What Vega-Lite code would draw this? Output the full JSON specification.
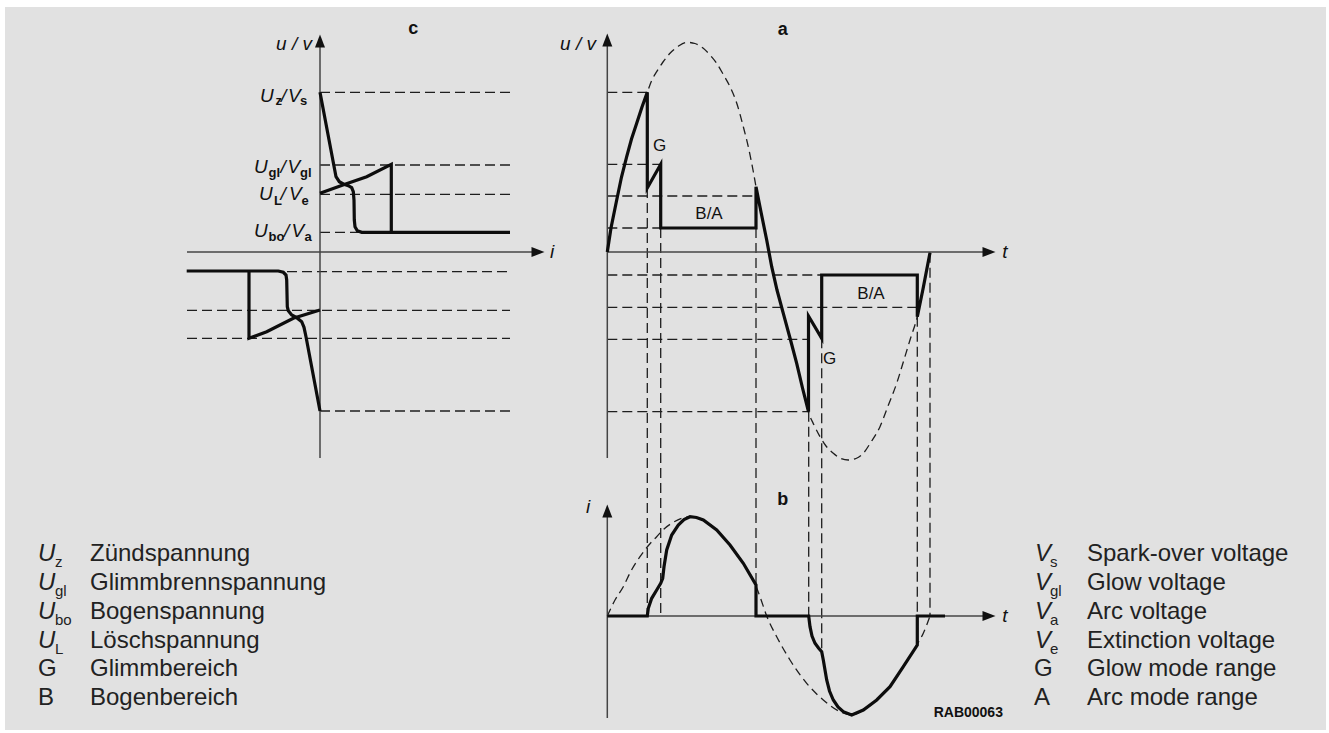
{
  "$schema": "https://vega.github.io/schema/vega-lite/v6.json",
  "width": 1321,
  "height": 723,
  "autosize": {"type": "none"},
  "padding": {"left": 5, "top": 7, "right": 3, "bottom": 3},
  "background": "#ffffff",
  "config": {"view": {"fill": "#e1e1e1", "stroke": null}},
  "datasets": {
    "axes": [
      {"g":"cy","o":0,"x":320,"y":46},{"g":"cy","o":1,"x":320,"y":458},
      {"g":"cx","o":0,"x":187,"y":252},{"g":"cx","o":1,"x":533,"y":252},
      {"g":"ay","o":0,"x":607.3,"y":46},{"g":"ay","o":1,"x":607.3,"y":458},
      {"g":"ax","o":0,"x":607.3,"y":252},{"g":"ax","o":1,"x":984,"y":252},
      {"g":"by","o":0,"x":607.3,"y":516},{"g":"by","o":1,"x":607.3,"y":718},
      {"g":"bx","o":0,"x":607.3,"y":616},{"g":"bx","o":1,"x":984,"y":616}
    ],
    "guides": [
      {"g":"c1","o":0,"x":320,"y":92.3},{"g":"c1","o":1,"x":510,"y":92.3},
      {"g":"c2","o":0,"x":320,"y":165},{"g":"c2","o":1,"x":510,"y":165},
      {"g":"c3","o":0,"x":320,"y":194.3},{"g":"c3","o":1,"x":510,"y":194.3},
      {"g":"c4","o":0,"x":320,"y":232.3},{"g":"c4","o":1,"x":510,"y":232.3},
      {"g":"c5","o":0,"x":287,"y":271.7},{"g":"c5","o":1,"x":510,"y":271.7},
      {"g":"c6","o":0,"x":187,"y":310.3},{"g":"c6","o":1,"x":510,"y":310.3},
      {"g":"c7","o":0,"x":187,"y":338.3},{"g":"c7","o":1,"x":510,"y":338.3},
      {"g":"c8","o":0,"x":320,"y":411},{"g":"c8","o":1,"x":510,"y":411},
      {"g":"a1","o":0,"x":607.3,"y":92.3},{"g":"a1","o":1,"x":647.3,"y":92.3},
      {"g":"a2","o":0,"x":607.3,"y":164.3},{"g":"a2","o":1,"x":660.7,"y":164.3},
      {"g":"a3","o":0,"x":607.3,"y":196},{"g":"a3","o":1,"x":756,"y":196},
      {"g":"a4","o":0,"x":607.3,"y":228},{"g":"a4","o":1,"x":660.7,"y":228},
      {"g":"a5","o":0,"x":607.3,"y":275},{"g":"a5","o":1,"x":821.7,"y":275},
      {"g":"a6","o":0,"x":607.3,"y":307.3},{"g":"a6","o":1,"x":917.3,"y":307.3},
      {"g":"a7","o":0,"x":607.3,"y":339.3},{"g":"a7","o":1,"x":808.7,"y":339.3},
      {"g":"a8","o":0,"x":607.3,"y":411.7},{"g":"a8","o":1,"x":808.7,"y":411.7},
      {"g":"v1","o":0,"x":647.3,"y":188},{"g":"v1","o":1,"x":647.3,"y":616},
      {"g":"v2","o":0,"x":660.7,"y":228},{"g":"v2","o":1,"x":660.7,"y":616},
      {"g":"v3","o":0,"x":756,"y":228},{"g":"v3","o":1,"x":756,"y":616},
      {"g":"v4","o":0,"x":808.7,"y":411.7},{"g":"v4","o":1,"x":808.7,"y":616},
      {"g":"v5","o":0,"x":821.7,"y":338.3},{"g":"v5","o":1,"x":821.7,"y":652},
      {"g":"v6","o":0,"x":917.3,"y":316.7},{"g":"v6","o":1,"x":917.3,"y":645},
      {"g":"v7","o":0,"x":930,"y":252.7},{"g":"v7","o":1,"x":930,"y":616}
    ],
    "sines": [
      {"g":"sa","o":0,"x":607.3,"y":252},{"g":"sa","o":1,"x":611,"y":228},{"g":"sa","o":2,"x":616.7,"y":200},{"g":"sa","o":3,"x":621.5,"y":177},{"g":"sa","o":4,"x":626.7,"y":156.7},{"g":"sa","o":5,"x":631.5,"y":139},{"g":"sa","o":6,"x":636.7,"y":123.3},{"g":"sa","o":7,"x":642,"y":107},{"g":"sa","o":8,"x":647.3,"y":92.3},{"g":"sa","o":9,"x":651.5,"y":81},{"g":"sa","o":10,"x":656.7,"y":71.7},{"g":"sa","o":11,"x":663,"y":62},{"g":"sa","o":12,"x":670,"y":53.3},{"g":"sa","o":13,"x":678,"y":46.5},{"g":"sa","o":14,"x":686.7,"y":42.3},{"g":"sa","o":15,"x":695,"y":43.5},{"g":"sa","o":16,"x":703.3,"y":48.3},{"g":"sa","o":17,"x":710,"y":55},{"g":"sa","o":18,"x":716.7,"y":63.3},{"g":"sa","o":19,"x":723,"y":74},{"g":"sa","o":20,"x":730,"y":86.7},{"g":"sa","o":21,"x":737,"y":104},{"g":"sa","o":22,"x":743.3,"y":126.7},{"g":"sa","o":23,"x":749,"y":150},{"g":"sa","o":24,"x":753,"y":170},{"g":"sa","o":25,"x":756,"y":186.7},{"g":"sa","o":26,"x":761,"y":212},{"g":"sa","o":27,"x":766.7,"y":240},{"g":"sa","o":28,"x":771.7,"y":266.7},{"g":"sa","o":29,"x":777,"y":290},{"g":"sa","o":30,"x":783.3,"y":313.3},{"g":"sa","o":31,"x":790,"y":338},{"g":"sa","o":32,"x":796.7,"y":363.3},{"g":"sa","o":33,"x":802.5,"y":388},{"g":"sa","o":34,"x":808.3,"y":411.7},{"g":"sa","o":35,"x":814,"y":425},{"g":"sa","o":36,"x":820,"y":436.7},{"g":"sa","o":37,"x":826,"y":446},{"g":"sa","o":38,"x":833.3,"y":453.3},{"g":"sa","o":39,"x":840,"y":458},{"g":"sa","o":40,"x":848.3,"y":460},{"g":"sa","o":41,"x":856,"y":458.5},{"g":"sa","o":42,"x":863.3,"y":453.3},{"g":"sa","o":43,"x":871,"y":442},{"g":"sa","o":44,"x":880,"y":426.7},{"g":"sa","o":45,"x":888,"y":406},{"g":"sa","o":46,"x":896.7,"y":383.3},{"g":"sa","o":47,"x":903,"y":363},{"g":"sa","o":48,"x":910,"y":340},{"g":"sa","o":49,"x":917.3,"y":316.7},{"g":"sa","o":50,"x":923,"y":290},{"g":"sa","o":51,"x":930,"y":252.7},
      {"g":"sb","o":0,"x":607.3,"y":616},{"g":"sb","o":1,"x":615,"y":600},{"g":"sb","o":2,"x":623.3,"y":586.7},{"g":"sb","o":3,"x":631,"y":571},{"g":"sb","o":4,"x":640,"y":556.7},{"g":"sb","o":5,"x":648,"y":546},{"g":"sb","o":6,"x":656.7,"y":536.7},{"g":"sb","o":7,"x":664,"y":529},{"g":"sb","o":8,"x":671.7,"y":523.3},{"g":"sb","o":9,"x":681.7,"y":518.3},{"g":"sb","o":10,"x":690,"y":516.7},{"g":"sb","o":11,"x":696.5,"y":517.5},{"g":"sb","o":12,"x":703.3,"y":520},{"g":"sb","o":13,"x":716.7,"y":530},{"g":"sb","o":14,"x":730,"y":545},{"g":"sb","o":15,"x":743.3,"y":563.3},{"g":"sb","o":16,"x":755.5,"y":585},{"g":"sb","o":17,"x":760,"y":596.7},{"g":"sb","o":18,"x":766.7,"y":616},{"g":"sb","o":19,"x":776.7,"y":636.7},{"g":"sb","o":20,"x":790,"y":660},{"g":"sb","o":21,"x":806.7,"y":683.3},{"g":"sb","o":22,"x":823.3,"y":700},{"g":"sb","o":23,"x":840,"y":711.7},{"g":"sb","o":24,"x":851.7,"y":715},{"g":"sb","o":25,"x":863.3,"y":710},{"g":"sb","o":26,"x":876.7,"y":700},{"g":"sb","o":27,"x":890,"y":686.7},{"g":"sb","o":28,"x":903.3,"y":666.7},{"g":"sb","o":29,"x":916.7,"y":645},{"g":"sb","o":30,"x":923.3,"y":633.3},{"g":"sb","o":31,"x":930,"y":616}
    ],
    "curves": [
      {"g":"c1","o":0,"x":320,"y":92.3},{"g":"c1","o":1,"x":336,"y":176.7},{"g":"c1","o":2,"x":339.3,"y":181.7},{"g":"c1","o":3,"x":343.3,"y":184},{"g":"c1","o":4,"x":348.3,"y":185.7},{"g":"c1","o":5,"x":351.7,"y":187.7},{"g":"c1","o":6,"x":353.3,"y":191.7},{"g":"c1","o":7,"x":354,"y":200},{"g":"c1","o":8,"x":354.3,"y":220},{"g":"c1","o":9,"x":355,"y":226.7},{"g":"c1","o":10,"x":357.3,"y":230.7},{"g":"c1","o":11,"x":361.7,"y":232.3},{"g":"c1","o":12,"x":510,"y":232.3},
      {"g":"c2","o":0,"x":320,"y":193.3},{"g":"c2","o":1,"x":345,"y":184.3},{"g":"c2","o":2,"x":366.7,"y":176.7},{"g":"c2","o":3,"x":391.3,"y":164.3},{"g":"c2","o":4,"x":391.3,"y":232.3},
      {"g":"c3","o":0,"x":186.7,"y":271},{"g":"c3","o":1,"x":278.3,"y":271},{"g":"c3","o":2,"x":283.3,"y":272.3},{"g":"c3","o":3,"x":286,"y":275},{"g":"c3","o":4,"x":286.7,"y":280},{"g":"c3","o":5,"x":287.3,"y":306.7},{"g":"c3","o":6,"x":288.3,"y":310.7},{"g":"c3","o":7,"x":291.7,"y":315},{"g":"c3","o":8,"x":296.7,"y":317.7},{"g":"c3","o":9,"x":301.7,"y":321.7},{"g":"c3","o":10,"x":304,"y":327.3},{"g":"c3","o":11,"x":306,"y":336.7},{"g":"c3","o":12,"x":320,"y":411},
      {"g":"c4","o":0,"x":249,"y":271},{"g":"c4","o":1,"x":249,"y":338.3},{"g":"c4","o":2,"x":266.7,"y":331.7},{"g":"c4","o":3,"x":293.3,"y":318.3},{"g":"c4","o":4,"x":320,"y":310},
      {"g":"a1","o":0,"x":607.3,"y":252},{"g":"a1","o":1,"x":611,"y":228},{"g":"a1","o":2,"x":616.7,"y":200},{"g":"a1","o":3,"x":621.5,"y":177},{"g":"a1","o":4,"x":626.7,"y":156.7},{"g":"a1","o":5,"x":631.5,"y":139},{"g":"a1","o":6,"x":636.7,"y":123.3},{"g":"a1","o":7,"x":642,"y":107},{"g":"a1","o":8,"x":647.3,"y":92.3},{"g":"a1","o":9,"x":647.3,"y":188},{"g":"a1","o":10,"x":660.7,"y":164.3},{"g":"a1","o":11,"x":660.7,"y":228},{"g":"a1","o":12,"x":756,"y":228},{"g":"a1","o":13,"x":756,"y":186.7},{"g":"a1","o":14,"x":761,"y":212},{"g":"a1","o":15,"x":766.7,"y":240},{"g":"a1","o":16,"x":771.7,"y":266.7},{"g":"a1","o":17,"x":777,"y":290},{"g":"a1","o":18,"x":783.3,"y":313.3},{"g":"a1","o":19,"x":790,"y":338},{"g":"a1","o":20,"x":796.7,"y":363.3},{"g":"a1","o":21,"x":802.5,"y":388},{"g":"a1","o":22,"x":808.5,"y":411.7},{"g":"a1","o":23,"x":808.5,"y":316},{"g":"a1","o":24,"x":821.7,"y":338.3},{"g":"a1","o":25,"x":821.7,"y":275},{"g":"a1","o":26,"x":917.3,"y":275},{"g":"a1","o":27,"x":917.3,"y":316.7},{"g":"a1","o":28,"x":923,"y":289},{"g":"a1","o":29,"x":930,"y":252.7},
      {"g":"b1","o":0,"x":607.3,"y":616},{"g":"b1","o":1,"x":647.3,"y":616},{"g":"b1","o":2,"x":648.3,"y":608.3},{"g":"b1","o":3,"x":651.7,"y":598.3},{"g":"b1","o":4,"x":656.7,"y":590},{"g":"b1","o":5,"x":660.7,"y":583.3},{"g":"b1","o":6,"x":662.7,"y":578.3},{"g":"b1","o":7,"x":664,"y":566.7},{"g":"b1","o":8,"x":666.7,"y":550},{"g":"b1","o":9,"x":671.7,"y":535},{"g":"b1","o":10,"x":678.3,"y":525},{"g":"b1","o":11,"x":684,"y":519.5},{"g":"b1","o":12,"x":690,"y":516.7},{"g":"b1","o":13,"x":696.5,"y":517.5},{"g":"b1","o":14,"x":703.3,"y":520},{"g":"b1","o":15,"x":716.7,"y":530},{"g":"b1","o":16,"x":730,"y":545},{"g":"b1","o":17,"x":743.3,"y":563.3},{"g":"b1","o":18,"x":756,"y":585},{"g":"b1","o":19,"x":756,"y":616},{"g":"b1","o":20,"x":808.7,"y":616},{"g":"b1","o":21,"x":810,"y":626.7},{"g":"b1","o":22,"x":812,"y":636},{"g":"b1","o":23,"x":815,"y":643.3},{"g":"b1","o":24,"x":818.5,"y":648},{"g":"b1","o":25,"x":821.7,"y":651.7},{"g":"b1","o":26,"x":823.3,"y":660},{"g":"b1","o":27,"x":825,"y":670},{"g":"b1","o":28,"x":826.7,"y":680},{"g":"b1","o":29,"x":829.5,"y":691},{"g":"b1","o":30,"x":833.3,"y":700},{"g":"b1","o":31,"x":838,"y":707},{"g":"b1","o":32,"x":843.3,"y":711.7},{"g":"b1","o":33,"x":851.7,"y":715},{"g":"b1","o":34,"x":863.3,"y":710},{"g":"b1","o":35,"x":876.7,"y":700},{"g":"b1","o":36,"x":890,"y":686.7},{"g":"b1","o":37,"x":903.3,"y":666.7},{"g":"b1","o":38,"x":917.3,"y":645},{"g":"b1","o":39,"x":917.3,"y":616},{"g":"b1","o":40,"x":945,"y":616}
    ],
    "arrows": [
      {"k":"up","x":320,"y":41},{"k":"up","x":607.3,"y":40},{"k":"up","x":607.3,"y":511},
      {"k":"right","x":538,"y":252},{"k":"right","x":989,"y":252},{"k":"right","x":989,"y":616}
    ],
    "texts": [
      {"k":"panel","x":413.3,"y":34,"t":"c"},{"k":"panel","x":782.7,"y":35,"t":"a"},{"k":"panel","x":782.7,"y":505,"t":"b"},
      {"k":"axl","x":294,"y":50,"t":"u / v"},{"k":"axl","x":578,"y":50,"t":"u / v"},{"k":"axl","x":552,"y":258,"t":"i"},{"k":"axl","x":1005,"y":258,"t":"t"},{"k":"axl","x":588,"y":513,"t":"i"},{"k":"axl","x":1005,"y":622,"t":"t"},
      {"k":"cm","x":260,"y":101.5,"t":"U"},{"k":"cm","x":281,"y":101.5,"t":"/"},{"k":"cm","x":288,"y":101.5,"t":"V"},
      {"k":"cm","x":254,"y":173.3,"t":"U"},{"k":"cm","x":280.5,"y":173.3,"t":"/"},{"k":"cm","x":287.5,"y":173.3,"t":"V"},
      {"k":"cm","x":259,"y":200,"t":"U"},{"k":"cm","x":280.5,"y":200,"t":"/"},{"k":"cm","x":289,"y":200,"t":"V"},
      {"k":"cm","x":254,"y":237.3,"t":"U"},{"k":"cm","x":284,"y":237.3,"t":"/"},{"k":"cm","x":291.5,"y":237.3,"t":"V"},
      {"k":"cs","x":275.5,"y":104.5,"t":"z"},{"k":"cs","x":300,"y":104.5,"t":"s"},
      {"k":"cs","x":268.5,"y":176.5,"t":"gl"},{"k":"cs","x":300,"y":176.5,"t":"gl"},
      {"k":"cs","x":274,"y":204.5,"t":"L"},{"k":"cs","x":301.5,"y":204.5,"t":"e"},
      {"k":"cs","x":268.5,"y":240.5,"t":"bo"},{"k":"cs","x":304.5,"y":240.5,"t":"a"},
      {"k":"mode","x":659.5,"y":150.7,"t":"G"},{"k":"mode","x":709,"y":219,"t":"B/A"},{"k":"mode","x":871,"y":299.3,"t":"B/A"},{"k":"mode","x":829.5,"y":364,"t":"G"},
      {"k":"ls","x":38,"y":560.5,"t":"U"},{"k":"ls","x":38,"y":589.5,"t":"U"},{"k":"ls","x":38,"y":618.5,"t":"U"},{"k":"ls","x":38,"y":647.5,"t":"U"},
      {"k":"lb","x":55,"y":567,"t":"z"},{"k":"lb","x":55,"y":596,"t":"gl"},{"k":"lb","x":55,"y":625,"t":"bo"},{"k":"lb","x":55,"y":654,"t":"L"},
      {"k":"lr","x":38,"y":676,"t":"G"},{"k":"lr","x":38,"y":705,"t":"B"},
      {"k":"lt","x":90,"y":560.5,"t":"Zündspannung"},{"k":"lt","x":90,"y":589.5,"t":"Glimmbrennspannung"},{"k":"lt","x":90,"y":618.5,"t":"Bogenspannung"},{"k":"lt","x":90,"y":647.5,"t":"Löschspannung"},{"k":"lt","x":90,"y":676,"t":"Glimmbereich"},{"k":"lt","x":90,"y":705,"t":"Bogenbereich"},
      {"k":"ls","x":1035,"y":560.5,"t":"V"},{"k":"ls","x":1035,"y":589.5,"t":"V"},{"k":"ls","x":1035,"y":618.5,"t":"V"},{"k":"ls","x":1035,"y":647.5,"t":"V"},
      {"k":"lb","x":1050,"y":567,"t":"s"},{"k":"lb","x":1050,"y":596,"t":"gl"},{"k":"lb","x":1050,"y":625,"t":"a"},{"k":"lb","x":1050,"y":654,"t":"e"},
      {"k":"lr","x":1034,"y":676,"t":"G"},{"k":"lr","x":1034,"y":705,"t":"A"},
      {"k":"lt","x":1087,"y":560.5,"t":"Spark-over voltage"},{"k":"lt","x":1087,"y":589.5,"t":"Glow voltage"},{"k":"lt","x":1087,"y":618.5,"t":"Arc voltage"},{"k":"lt","x":1087,"y":647.5,"t":"Extinction voltage"},{"k":"lt","x":1087,"y":676,"t":"Glow mode range"},{"k":"lt","x":1087,"y":705,"t":"Arc mode range"},
      {"k":"code","x":968.3,"y":717.3,"t":"RAB00063"}
    ]
  },
  "encoding": {
    "x": {"field": "x", "type": "quantitative", "scale": {"domain": [5, 1326], "nice": false, "zero": false}, "axis": null},
    "y": {"field": "y", "type": "quantitative", "scale": {"domain": [7, 730], "nice": false, "zero": false, "reverse": true}, "axis": null}
  },
  "layer": [
    {"data": {"name": "guides"}, "mark": {"type": "line", "color": "#1e1e1e", "strokeWidth": 1.3, "strokeDash": [10, 5]}, "encoding": {"detail": {"field": "g"}, "order": {"field": "o", "type": "quantitative"}}},
    {"data": {"name": "sines"}, "mark": {"type": "line", "color": "#1e1e1e", "strokeWidth": 1.3, "strokeDash": [8, 5], "interpolate": "monotone"}, "encoding": {"detail": {"field": "g"}, "order": {"field": "o", "type": "quantitative"}}},
    {"data": {"name": "axes"}, "mark": {"type": "line", "color": "#444444", "strokeWidth": 1.5}, "encoding": {"detail": {"field": "g"}, "order": {"field": "o", "type": "quantitative"}}},
    {"data": {"name": "curves"}, "mark": {"type": "line", "color": "#0d0d0d", "strokeWidth": 3.2, "strokeJoin": "miter", "strokeMiterLimit": 4}, "encoding": {"detail": {"field": "g"}, "order": {"field": "o", "type": "quantitative"}}},
    {"data": {"name": "arrows"}, "transform": [{"filter": "datum.k === 'up'"}], "mark": {"type": "point", "shape": "M0,-1L0.77,1L-0.77,1Z", "size": 169, "filled": true, "color": "#111111", "opacity": 1}},
    {"data": {"name": "arrows"}, "transform": [{"filter": "datum.k === 'right'"}], "mark": {"type": "point", "shape": "M1,0L-1,-0.77L-1,0.77Z", "size": 169, "filled": true, "color": "#111111", "opacity": 1}},
    {"data": {"name": "texts"}, "transform": [{"filter": "datum.k === 'panel'"}], "mark": {"type": "text", "font": "Liberation Sans", "fontWeight": "bold", "fontSize": 18, "align": "center", "baseline": "alphabetic", "color": "#111111"}, "encoding": {"text": {"field": "t"}}},
    {"data": {"name": "texts"}, "transform": [{"filter": "datum.k === 'axl'"}], "mark": {"type": "text", "font": "Liberation Sans Narrow, Liberation Sans, sans-serif", "fontStyle": "italic", "fontSize": 19, "align": "center", "baseline": "alphabetic", "color": "#111111"}, "encoding": {"text": {"field": "t"}}},
    {"data": {"name": "texts"}, "transform": [{"filter": "datum.k === 'cm'"}], "mark": {"type": "text", "font": "Liberation Sans Narrow, Liberation Sans, sans-serif", "fontStyle": "italic", "fontSize": 19, "align": "left", "baseline": "alphabetic", "color": "#111111"}, "encoding": {"text": {"field": "t"}}},
    {"data": {"name": "texts"}, "transform": [{"filter": "datum.k === 'cs'"}], "mark": {"type": "text", "font": "Liberation Sans Narrow, Liberation Sans, sans-serif", "fontSize": 13, "fontWeight": "bold", "align": "left", "baseline": "alphabetic", "color": "#111111"}, "encoding": {"text": {"field": "t"}}},
    {"data": {"name": "texts"}, "transform": [{"filter": "datum.k === 'mode'"}], "mark": {"type": "text", "font": "Liberation Sans", "fontSize": 17, "align": "center", "baseline": "alphabetic", "color": "#111111"}, "encoding": {"text": {"field": "t"}}},
    {"data": {"name": "texts"}, "transform": [{"filter": "datum.k === 'ls'"}], "mark": {"type": "text", "font": "Liberation Sans", "fontStyle": "italic", "fontSize": 24, "align": "left", "baseline": "alphabetic", "color": "#222222"}, "encoding": {"text": {"field": "t"}}},
    {"data": {"name": "texts"}, "transform": [{"filter": "datum.k === 'lb'"}], "mark": {"type": "text", "font": "Liberation Sans", "fontSize": 15, "align": "left", "baseline": "alphabetic", "color": "#222222"}, "encoding": {"text": {"field": "t"}}},
    {"data": {"name": "texts"}, "transform": [{"filter": "datum.k === 'lr'"}], "mark": {"type": "text", "font": "Liberation Sans", "fontSize": 24, "align": "left", "baseline": "alphabetic", "color": "#222222"}, "encoding": {"text": {"field": "t"}}},
    {"data": {"name": "texts"}, "transform": [{"filter": "datum.k === 'lt'"}], "mark": {"type": "text", "font": "Liberation Sans", "fontSize": 24, "align": "left", "baseline": "alphabetic", "color": "#222222"}, "encoding": {"text": {"field": "t"}}},
    {"data": {"name": "texts"}, "transform": [{"filter": "datum.k === 'code'"}], "mark": {"type": "text", "font": "Liberation Sans Narrow, Liberation Sans, sans-serif", "fontWeight": "bold", "fontSize": 14, "align": "center", "baseline": "alphabetic", "color": "#111111"}, "encoding": {"text": {"field": "t"}}}
  ]
}
